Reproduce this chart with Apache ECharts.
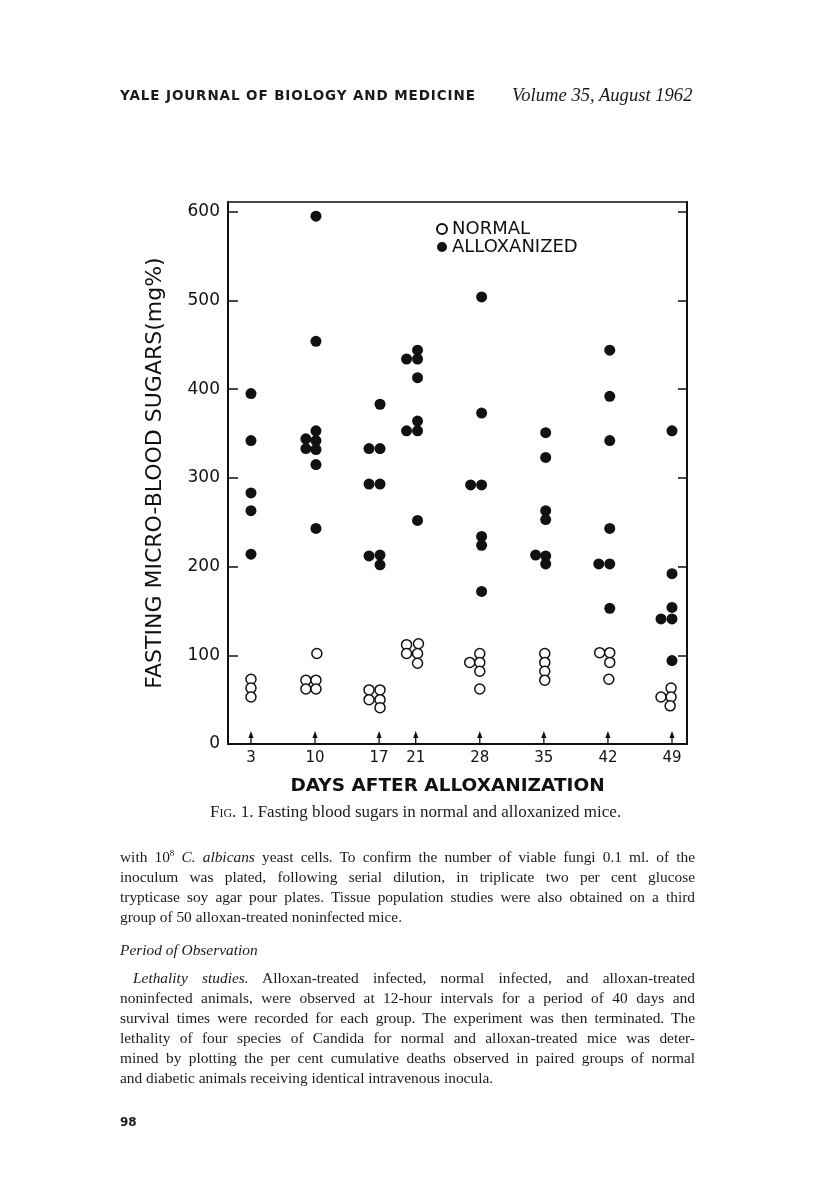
<!DOCTYPE html>
<html><head><meta charset="utf-8">
<script src="https://cdn.jsdelivr.net/npm/echarts@6/dist/echarts.min.js"></script>
<style>
html,body{margin:0;padding:0;background:#fff;}
#page{position:relative;width:816px;height:1200px;overflow:hidden;background:#fff;}
#chart{position:absolute;left:0;top:0;width:816px;height:1200px;}
.t{position:absolute;color:#1a1a1a;white-space:nowrap;}
.line{position:absolute;left:120px;width:575px;font-family:"Liberation Serif","DejaVu Serif",serif;font-size:15.4px;line-height:20px;height:20px;text-align:justify;text-align-last:justify;color:#1a1a1a;white-space:nowrap;}
.last{text-align-last:left;}
sup{font-size:9px;line-height:0;vertical-align:6px;}
</style></head>
<body>
<div id="page">
<div id="chart"></div>
<div class="t" style="left:120px;top:87px;font-family:'DejaVu Sans',sans-serif;font-weight:bold;font-size:13.5px;letter-spacing:0.9px;">YALE JOURNAL OF BIOLOGY AND MEDICINE</div>
<div class="t" style="left:512px;top:84px;font-family:'Liberation Serif',serif;font-style:italic;font-size:18.6px;">Volume 35, August 1962</div>
<div class="t" style="left:210px;top:802px;font-family:'Liberation Serif',serif;font-size:17px;"><span style="font-variant:small-caps;">Fig.</span> 1. Fasting blood sugars in normal and alloxanized mice.</div>
<div class="line" style="top:847px;">with 10<sup>8</sup> <i>C. albicans</i> yeast cells. To confirm the number of viable fungi 0.1 ml. of the</div>
<div class="line" style="top:867px;">inoculum was plated, following serial dilution, in triplicate two per cent glucose</div>
<div class="line" style="top:887px;">trypticase soy agar pour plates. Tissue population studies were also obtained on a third</div>
<div class="line last" style="top:907px;">group of 50 alloxan-treated noninfected mice.</div>
<div class="line last" style="top:940px;"><i>Period of Observation</i></div>
<div class="line" style="top:968px;left:133px;width:562px;"><i>Lethality studies.</i> Alloxan-treated infected, normal infected, and alloxan-treated</div>
<div class="line" style="top:988px;">noninfected animals, were observed at 12-hour intervals for a period of 40 days and</div>
<div class="line" style="top:1008px;">survival times were recorded for each group. The experiment was then terminated. The</div>
<div class="line" style="top:1028px;">lethality of four species of Candida for normal and alloxan-treated mice was deter-</div>
<div class="line" style="top:1048px;">mined by plotting the per cent cumulative deaths observed in paired groups of normal</div>
<div class="line last" style="top:1068px;">and diabetic animals receiving identical intravenous inocula.</div>
<div class="t" style="left:120px;top:1115px;font-family:'DejaVu Sans',sans-serif;font-weight:bold;font-size:12px;">98</div>
</div>
<script>
// Tick labels
const dayTicks = [3, 10, 17, 21, 28, 35, 42, 49];
const valueTicks = [0, 100, 200, 300, 400, 500, 600];

// NORMAL mice (open circles); day values include the small sideways offsets used in the figure
const normalDay = [3.0, 3.0, 3.0,
  10.2, 9.0, 10.1, 9.0, 10.1,
  15.9, 17.1, 15.9, 17.1, 17.1,
  20.0, 21.3, 20.0, 21.2, 21.2,
  28.0, 26.9, 28.0, 28.0, 28.0,
  35.1, 35.1, 35.1, 35.1,
  41.1, 42.2, 42.2, 42.1,
  48.9, 47.8, 48.9, 48.8];
const normalValue = [73, 63, 53,
  102, 72, 72, 62, 62,
  61, 61, 50, 50, 41,
  112, 113, 102, 102, 91,
  102, 92, 92, 82, 62,
  102, 92, 82, 72,
  103, 103, 92, 73,
  63, 53, 53, 43];

// ALLOXANIZED mice (filled circles)
const alloxDay = [3.0, 3.0, 3.0, 3.0, 3.0,
  10.1, 10.1, 10.1, 9.0, 10.1, 9.0, 10.1, 10.1, 10.1,
  17.1, 15.9, 17.1, 15.9, 17.1, 15.9, 17.1, 17.1,
  20.0, 21.2, 21.2, 21.2, 20.0, 21.2, 21.2, 21.2,
  28.2, 28.2, 27.0, 28.2, 28.2, 28.2, 28.2,
  35.2, 35.2, 35.2, 35.2, 34.1, 35.2, 35.2,
  42.2, 42.2, 42.2, 42.2, 41.0, 42.2, 42.2,
  49.0, 49.0, 49.0, 47.8, 49.0, 49.0];
const alloxValue = [395, 342, 283, 263, 214,
  595, 454, 353, 344, 342, 333, 332, 315, 243,
  383, 333, 333, 293, 293, 212, 213, 202,
  434, 444, 434, 413, 353, 364, 353, 252,
  504, 373, 292, 292, 234, 224, 172,
  351, 323, 263, 253, 213, 212, 203,
  444, 392, 342, 243, 203, 203, 153,
  353, 192, 154, 141, 141, 94];

const ink = '#111';
const normalData = normalDay.map((d, i) => [d, normalValue[i]]);
const alloxData = alloxDay.map((d, i) => [d, alloxValue[i]]);
const arrowData = dayTicks.map(d => [d, 0]);

const chart = echarts.init(document.getElementById('chart'), null, {renderer: 'canvas'});
chart.setOption({
  animation: false,
  backgroundColor: 'transparent',
  grid: {left: 228, top: 202, width: 459, height: 542, show: true, borderColor: ink, borderWidth: 1.5, backgroundColor: 'transparent'},
  legend: {
    data: ['NORMAL', 'ALLOXANIZED'], orient: 'vertical', left: 431, top: 215, itemGap: 0,
    itemWidth: 10, itemHeight: 10,
    textStyle: {fontFamily: 'DejaVu Sans', fontSize: 18, color: ink}
  },
  xAxis: {
    type: 'value', min: 0.49, max: 50.64,
    splitLine: {show: false},
    axisLine: {show: true, onZero: false, lineStyle: {color: ink, width: 2}},
    axisTick: {show: false},
    axisLabel: {customValues: dayTicks, margin: 7, fontFamily: 'DejaVu Sans', fontSize: 15, color: ink},
    name: 'DAYS AFTER ALLOXANIZATION', nameLocation: 'middle', nameGap: 33,
    nameTextStyle: {fontFamily: 'DejaVu Sans', fontWeight: 'bold', fontSize: 18.5, color: ink, padding: [0, 20, 0, 0]}
  },
  yAxis: [{
    type: 'value', min: 0, max: 611, position: 'left',
    splitLine: {show: false},
    axisLine: {show: true, lineStyle: {color: ink, width: 2}},
    axisTick: {show: true, inside: true, length: 10, customValues: valueTicks, lineStyle: {color: ink, width: 1.5}},
    axisLabel: {customValues: valueTicks, margin: 8, fontFamily: 'DejaVu Sans', fontSize: 17, color: ink},
    name: 'FASTING MICRO-BLOOD SUGARS(mg%)', nameLocation: 'middle', nameRotate: 90, nameGap: 62,
    nameTextStyle: {fontFamily: 'DejaVu Sans', fontSize: 22, color: ink}
  }, {
    type: 'value', min: 0, max: 611, position: 'right',
    splitLine: {show: false},
    axisLine: {show: true, lineStyle: {color: ink, width: 2}},
    axisTick: {show: true, inside: true, length: 9, customValues: valueTicks.slice(1), lineStyle: {color: ink, width: 1.5}},
    axisLabel: {show: false}
  }],
  series: [{
    name: 'NORMAL', type: 'scatter', data: normalData, symbol: 'circle', symbolSize: 10,
    itemStyle: {color: '#fff', borderColor: ink, borderWidth: 1.5, opacity: 1}, z: 3
  }, {
    name: 'ALLOXANIZED', type: 'scatter', data: alloxData, symbol: 'circle', symbolSize: 11,
    itemStyle: {color: ink, opacity: 1}, z: 3
  }, {
    name: 'day markers', type: 'custom', data: arrowData, silent: true, z: 2,
    renderItem: function (params, api) {
      const p = api.coord([api.value(0), api.value(1)]);
      return {type: 'group', children: [
        {type: 'line', shape: {x1: p[0], y1: p[1], x2: p[0], y2: p[1] - 10}, style: {stroke: ink, lineWidth: 1.3}},
        {type: 'polygon', shape: {points: [[p[0], p[1] - 13], [p[0] - 2.6, p[1] - 6], [p[0] + 2.6, p[1] - 6]]}, style: {fill: ink}}
      ]};
    }
  }]
});
</script>
</body></html>
